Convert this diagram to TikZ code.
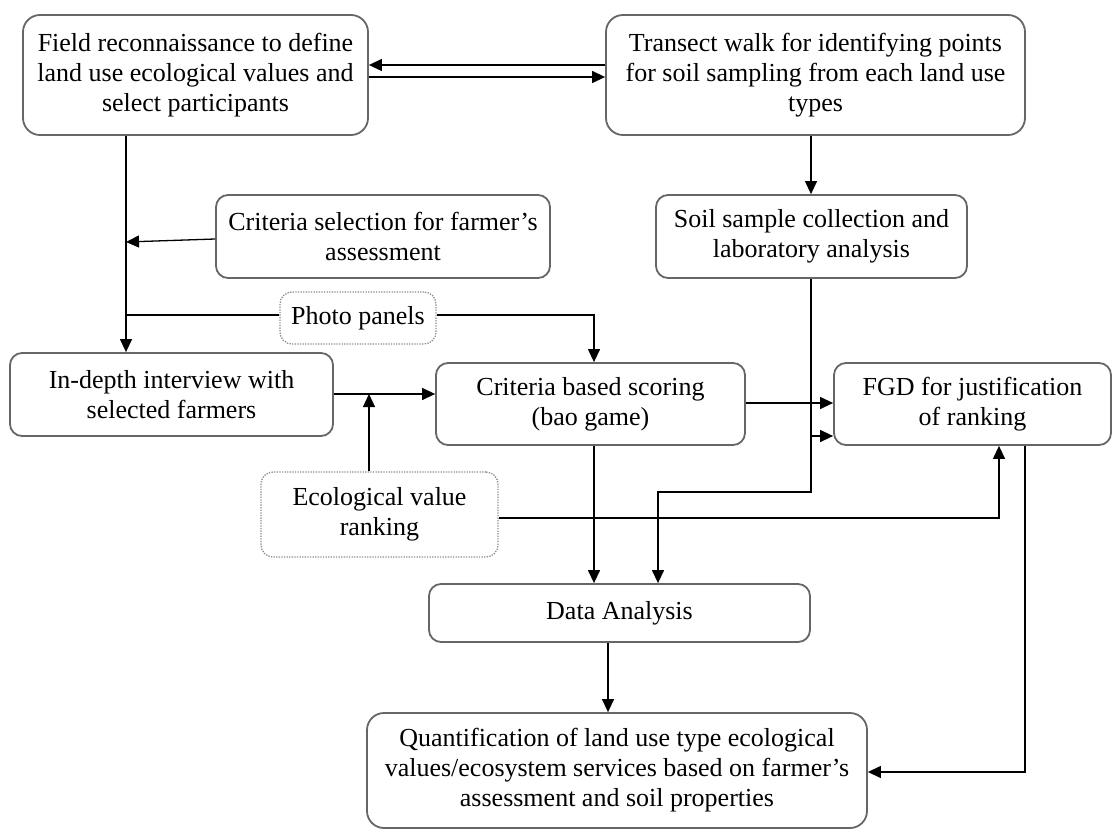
\documentclass[tikz,border=0pt]{standalone}
\usepackage{fontspec}
\setmainfont{Liberation Serif}
\usetikzlibrary{arrows.meta}
\begin{document}
\begin{tikzpicture}[x=1pt,y=-1pt,
  box/.style={draw=black!60, line width=1.8pt, rounded corners=12pt, align=center, inner sep=0pt,
    font=\fontsize{26pt}{30pt}\selectfont},
  bigbox/.style={box, rounded corners=17pt},
  dotbox/.style={box, draw=black!45, line width=1.3pt, dash pattern=on 1.3pt off 1.3pt},
  arr/.style={draw=black, line width=1.3pt, -{Triangle[length=13pt,width=12pt]}},
  ln/.style={draw=black, line width=1.3pt}]
\useasboundingbox (0,0) rectangle (1113,832);

\node[bigbox, minimum width=345pt, minimum height=120pt] (A) at (195.5,75)
  {Field reconnaissance to define\\land use ecological values and\\select participants};
\node[bigbox, minimum width=419pt, minimum height=120pt] (B) at (815.5,75)
  {Transect walk for identifying points\\for soil sampling from each land use\\types};
\node[box, minimum width=334pt, minimum height=83pt] (C) at (383,236.5)
  {Criteria selection for farmer’s\\assessment};
\node[box, minimum width=311pt, minimum height=83pt] (D) at (811.5,236.5)
  {Soil sample collection and\\laboratory analysis};
\node[dotbox, minimum width=156pt, minimum height=52pt] (P) at (358,318)
  {Photo panels};
\node[box, minimum width=323pt, minimum height=83pt] (E) at (171.5,394.5)
  {In-depth interview with\\selected farmers};
\node[box, minimum width=309pt, minimum height=82pt] (F) at (590.5,404)
  {Criteria based scoring\\(bao game)};
\node[box, minimum width=277pt, minimum height=82pt] (H) at (972.5,404)
  {FGD for justification\\of ranking};
\node[dotbox, minimum width=237pt, minimum height=85pt] (G) at (379.5,514.5)
  {Ecological value\\ranking};
\node[box, minimum width=381pt, minimum height=58pt] (DA) at (619.5,613)
  {Data Analysis};
\node[bigbox, minimum width=500pt, minimum height=115pt] (J) at (617,770.5)
  {Quantification of land use type ecological\\values/ecosystem services based on farmer’s\\assessment and soil properties};

% A <-> B
\draw[arr] (B.west |- 0,65) -- (A.east |- 0,65);
\draw[arr] (A.east |- 0,77) -- (B.west |- 0,77);
% A -> E
\draw[arr] (A.south -| 126,0) -- (E.north -| 126,0);
% C -> line
\coordinate (cj) at (126,242);
\draw[arr] (C.west |- 0,239) -- (cj);
% photo panels
\coordinate (pj) at (126,315);
\draw[ln] (pj) -- (P.west |- 0,315);
\draw[arr] (P.east |- 0,315) -- (594,315) -- (F.north -| 594,0);
% E -> F, G -> junction
\draw[arr] (E.east |- 0,394) -- (F.west |- 0,394);
\coordinate (gj) at (369,394);
\draw[arr] (G.north -| 369,0) -- (gj);
% F -> H
\draw[arr] (F.east |- 0,403) -- (H.west |- 0,403);
% B -> D
\draw[arr] (B.south -| 811,0) -- (D.north -| 811,0);
% D -> DA and D -> H
\draw[arr] (D.south -| 811,0) -- (811,492) -- (658,492) -- (DA.north -| 658,0);
\coordinate (dj) at (811,436);
\draw[arr] (dj) -- (H.west |- 0,436);
% F -> DA
\draw[arr] (F.south -| 594,0) -- (DA.north -| 594,0);
% G -> H
\draw[arr] (G.east |- 0,518) -- (999,518) -- (H.south -| 999,0);
% DA -> J
\draw[arr] (DA.south -| 608,0) -- (J.north -| 608,0);
% H -> J
\draw[arr] (H.south -| 1025,0) -- (1025,772) -- (J.east |- 0,772);
\end{tikzpicture}
\end{document}
